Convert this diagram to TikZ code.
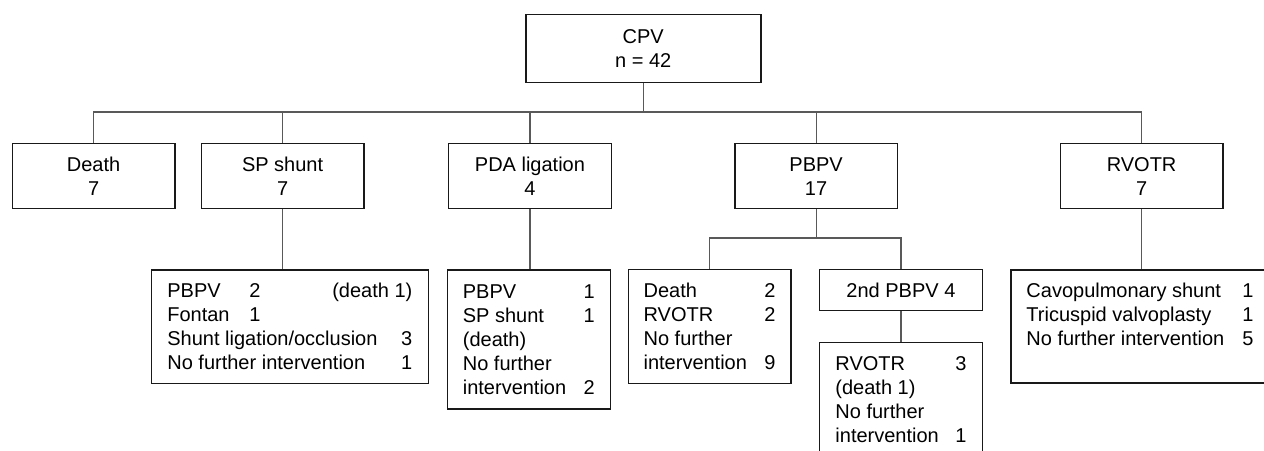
\documentclass[tikz,border=0pt]{standalone}
\usepackage{fontspec}
\setmainfont{Liberation Sans}
\newcommand\rowbox[2]{\hbox to #1{#2}}
\begin{document}
\begin{tikzpicture}[x=1bp,y=-1bp,
  box/.style={draw=black!90, line width=1.5bp, rectangle, anchor=north west,
    inner sep=0pt, align=center, font=\fontsize{20bp}{24bp}\selectfont},
  listbox/.style={box, align=left, inner ysep=0pt},
  conn/.style={draw=black!65, line width=1.1bp}]
\useasboundingbox (0,0) rectangle (1264,451);
\clip (0,0) rectangle (1264,451);
% top
\node[box, minimum width=235bp, minimum height=68bp] (cpv) at (525,14) {CPV\\n = 42};
% level 1
\node[box, minimum width=162.3bp, minimum height=65bp] (death) at (11.7,143) {Death\\7};
\node[box, minimum width=162.3bp, minimum height=65bp] (sp) at (200.7,143) {SP shunt\\7};
\node[box, minimum width=163bp, minimum height=65bp] (pda) at (447.7,143) {PDA ligation\\4};
\node[box, minimum width=162.7bp, minimum height=65bp] (pbpv) at (734,143) {PBPV\\17};
\node[box, minimum width=162.3bp, minimum height=65bp] (rvotr) at (1059.7,143) {RVOTR\\7};
% level 2
\node[listbox, inner xsep=16.1bp, minimum width=277.2bp, minimum height=113.4bp] (spc) at (150.5,269.3)
  {\rowbox{245bp}{\hbox to 82bp{PBPV\hfil}2\hfil(death 1)}\\
   \rowbox{245bp}{\hbox to 82bp{Fontan\hfil}1\hfil}\\
   \rowbox{245bp}{Shunt ligation/occlusion\hfil 3}\\
   \rowbox{245bp}{No further intervention\hfil 1}};
\node[listbox, inner xsep=15.4bp, minimum width=162.8bp, minimum height=139bp] (pdac) at (446.7,269.3)
  {\rowbox{132bp}{PBPV\hfil 1}\\
   \rowbox{132bp}{SP shunt\hfil 1}\\
   \rowbox{132bp}{(death)\hfil}\\
   \rowbox{132bp}{No further\hfil}\\
   \rowbox{132bp}{intervention\hfil 2}};
\node[listbox, inner xsep=15.1bp, minimum width=162.3bp, minimum height=113.7bp] (d2) at (627.7,269)
  {\rowbox{132bp}{Death\hfil 2}\\
   \rowbox{132bp}{RVOTR\hfil 2}\\
   \rowbox{132bp}{No further\hfil}\\
   \rowbox{132bp}{intervention\hfil 9}};
\node[box, minimum width=163bp, minimum height=41bp] (p2) at (818.7,269) {2nd PBPV 4};
\node[listbox, inner xsep=16bp, minimum width=163bp, minimum height=114.3bp] (rc) at (818.7,341.7)
  {\rowbox{131bp}{RVOTR\hfil 3}\\
   \rowbox{131bp}{(death 1)\hfil}\\
   \rowbox{131bp}{No further\hfil}\\
   \rowbox{131bp}{intervention\hfil 1}};
\node[listbox, inner xsep=15.7bp, minimum width=255bp, minimum height=113bp] (cc) at (1010,269.3)
  {\rowbox{227bp}{Cavopulmonary shunt\hfil 1}\\
   \rowbox{227bp}{Tricuspid valvoplasty\hfil 1}\\
   \rowbox{227bp}{No further intervention\hfil 5}\\
   \hbox{}};
% connectors
\coordinate (bus) at (642,112);
\coordinate (pbus) at (815,238);
\draw[conn] (cpv.south) -- (cpv.south |- bus);
\draw[conn] (death.north) -- (death.north |- bus) -- (rvotr.north |- bus) -- (rvotr.north);
\draw[conn] (sp.north) -- (sp.north |- bus);
\draw[conn] (pda.north) -- (pda.north |- bus);
\draw[conn] (pbpv.north) -- (pbpv.north |- bus);
\draw[conn] (sp.south) -- (sp.south |- spc.north);
\draw[conn] (pda.south) -- (pda.south |- pdac.north);
\draw[conn] (pbpv.south) -- (pbpv.south |- pbus);
\draw[conn] (d2.north) -- (d2.north |- pbus) -- (p2.north |- pbus) -- (p2.north);
\draw[conn] (p2.south) -- (p2.south |- rc.north);
\draw[conn] (rvotr.south) -- (rvotr.south |- cc.north);
\end{tikzpicture}
\end{document}
